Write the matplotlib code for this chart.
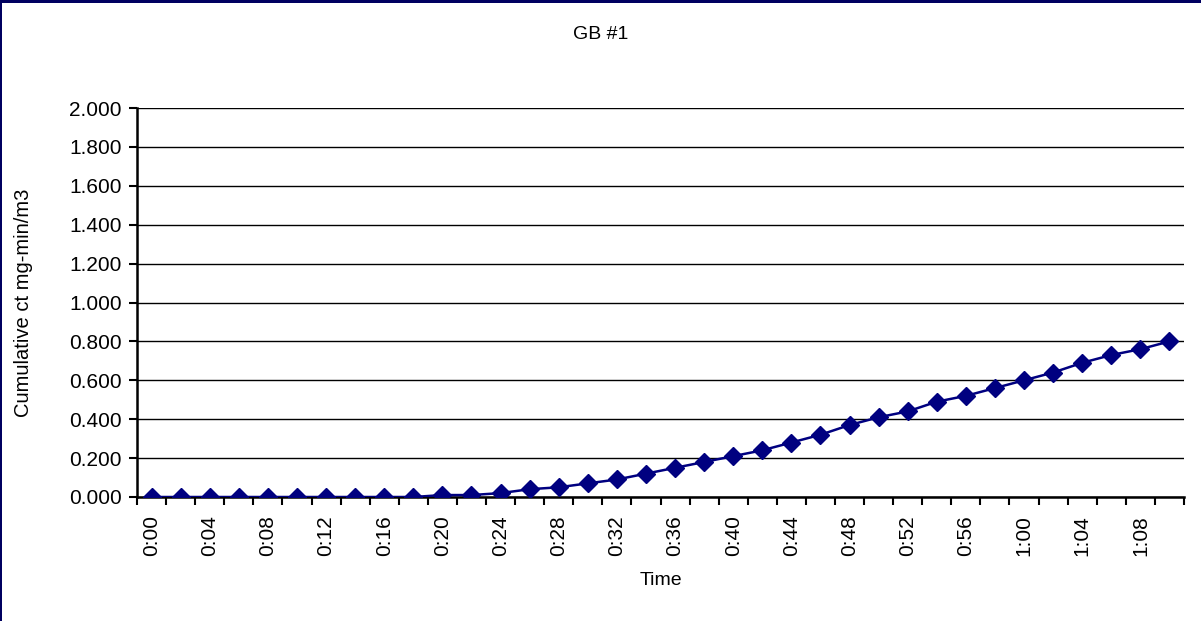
import numpy as np
import matplotlib.pyplot as plt
from matplotlib.patches import Rectangle

plt.rcParams['font.family'] = ['Liberation Sans', 'DejaVu Sans']

## data

times = ["0:00", "0:02", "0:04", "0:06", "0:08", "0:10", "0:12", "0:14", "0:16", "0:18",
         "0:20", "0:22", "0:24", "0:26", "0:28", "0:30", "0:32", "0:34", "0:36", "0:38",
         "0:40", "0:42", "0:44", "0:46", "0:48", "0:50", "0:52", "0:54", "0:56", "0:58",
         "1:00", "1:02", "1:04", "1:06", "1:08", "1:10"]
ct = [0, 0, 0, 0, 0, 0, 0, 0, 0, 0,
      0.01, 0.01, 0.02, 0.04, 0.05, 0.07, 0.09, 0.12, 0.15, 0.18,
      0.21, 0.24, 0.28, 0.32, 0.37, 0.41, 0.44, 0.49, 0.52, 0.56,
      0.60, 0.64, 0.69, 0.73, 0.76, 0.80]
y_ticks = [0.0, 0.2, 0.4, 0.6, 0.8, 1.0, 1.2, 1.4, 1.6, 1.8, 2.0]

## figure

fig = plt.figure(figsize=(12.01, 6.21), dpi=100)
ax = fig.add_axes([137 / 1201, 1 - 497 / 621, (1184 - 137) / 1201, (497 - 108) / 621])

x = np.arange(len(times))
ax.plot(x, ct, color='#000080', lw=1.8, marker='D', markersize=9, zorder=3)

ax.set_xlim(-0.5, len(times) - 0.5)
ax.set_ylim(0, 2.0)
ax.set_yticks(y_ticks)
ax.set_yticklabels(["%.3f" % v for v in y_ticks])
ax.yaxis.grid(True, color='black', lw=1.0)
ax.set_axisbelow(True)

# labels every other category, tick marks on category boundaries
ax.set_xticks(x[::2])
ax.set_xticklabels(times[::2], rotation=90)
ax.set_xticks(np.arange(len(times) + 1) - 0.5, minor=True)
ax.tick_params(axis='x', which='major', length=0, pad=13, labelsize=15)
ax.tick_params(axis='x', which='minor', length=6, width=1.5, direction='out')
ax.tick_params(axis='y', length=6, width=1.5, pad=5, labelsize=15)

for s in ['top', 'right']:
    ax.spines[s].set_visible(False)
for s in ['left', 'bottom']:
    ax.spines[s].set_linewidth(1.8)

ax.set_xlabel("Time", fontsize=14)
ax.xaxis.set_label_coords(0.5, -0.193)
ax.set_ylabel("Cumulative ct mg-min/m3", fontsize=14.5)
ax.yaxis.set_label_coords(-0.099, 0.5)

fig.text(0.5, 1 - 34.5 / 621, "GB #1", ha='center', va='center', fontsize=14)

# navy frame edges seen at top and left
fig.add_artist(Rectangle((0, 1 - 3 / 621), 1, 3 / 621, transform=fig.transFigure,
                         color='#000060', lw=0))
fig.add_artist(Rectangle((0, 0), 2 / 1201, 1, transform=fig.transFigure,
                         color='#000060', lw=0))

fig.savefig("out.png", dpi=100)
